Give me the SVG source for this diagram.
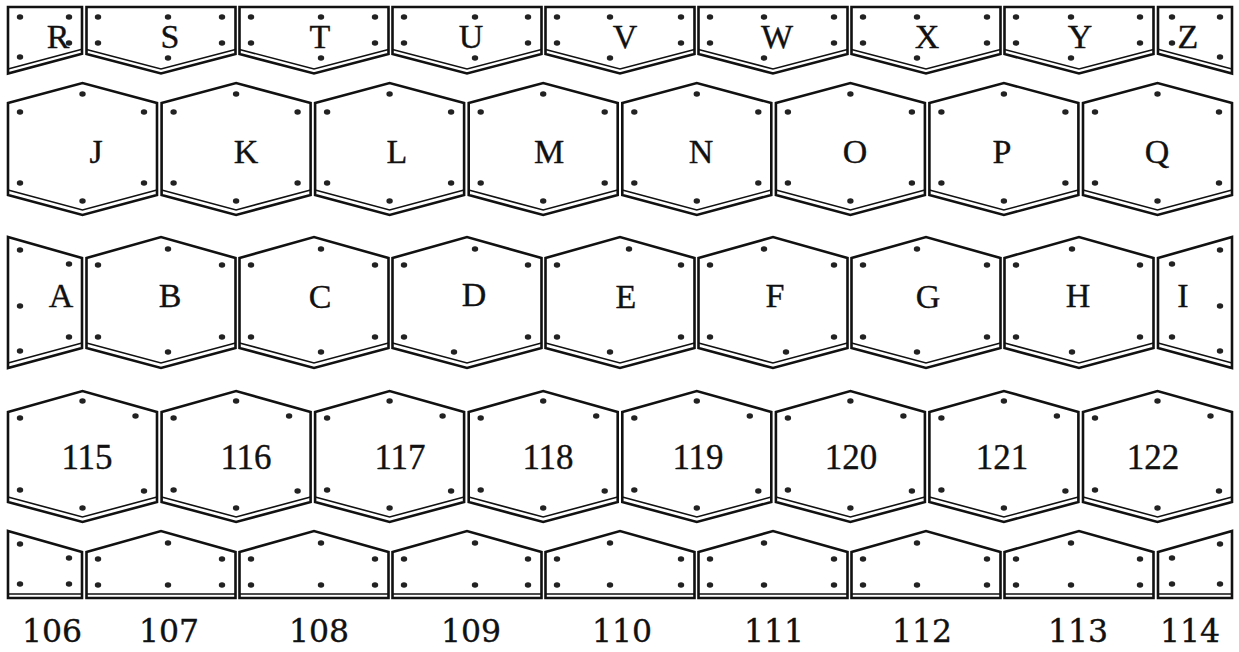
<svg xmlns="http://www.w3.org/2000/svg" width="1239" height="652" viewBox="0 0 1239 652">
<style>
.sh{fill:#fff;stroke:#111;stroke-width:2.6;stroke-linejoin:miter}
.in{fill:none;stroke:#111;stroke-width:1.6}
.d{fill:#222}
.t{font-family:"Liberation Serif","Times New Roman",serif;font-size:34px;fill:#111;stroke:#111;stroke-width:0.35;text-anchor:middle}
.n{font-size:35px}
.m{font-family:"DejaVu Serif","Liberation Serif",serif;font-size:31.5px}
</style>
<rect width="1239" height="652" fill="#fff"/>
<defs><ellipse id="dot" rx="3.2" ry="2.8" class="d"/></defs>

<!-- Row 1 -->
<g id="R"><path class="sh" d="M8,7H82V53.7L8,73.5Z"/><path class="in" d="M8,69L82,49.3"/>
<use href="#dot" x="20" y="17"/><use href="#dot" x="69" y="17"/><use href="#dot" x="69" y="43"/><use href="#dot" x="20" y="57"/>
<text class="t" x="58" y="48">R</text></g>
<g id="S"><path class="sh" d="M86.5,7H235.5V54L161,73.5L86.5,54Z"/><path class="in" d="M86.5,49.5L161,69L235.5,49.5"/>
<use href="#dot" x="98" y="17"/><use href="#dot" x="168" y="17"/><use href="#dot" x="222" y="17"/><use href="#dot" x="98" y="43"/><use href="#dot" x="222" y="43"/><use href="#dot" x="168" y="58"/>
<text class="t" x="170" y="48">S</text></g>
<g id="T"><path class="sh" d="M239.5,7H388.5V54L314,73.5L239.5,54Z"/><path class="in" d="M239.5,49.5L314,69L388.5,49.5"/>
<use href="#dot" x="251" y="17"/><use href="#dot" x="321" y="17"/><use href="#dot" x="375" y="17"/><use href="#dot" x="251" y="43"/><use href="#dot" x="375" y="43"/><use href="#dot" x="321" y="58"/>
<text class="t" x="320" y="48">T</text></g>
<g id="U"><path class="sh" d="M392.5,7H541.5V54L467,73.5L392.5,54Z"/><path class="in" d="M392.5,49.5L467,69L541.5,49.5"/>
<use href="#dot" x="404" y="17"/><use href="#dot" x="475" y="17"/><use href="#dot" x="528" y="17"/><use href="#dot" x="404" y="43"/><use href="#dot" x="528" y="43"/><use href="#dot" x="475" y="58"/>
<text class="t" x="471" y="48">U</text></g>
<g id="V"><path class="sh" d="M545.5,7H694.5V54L620,73.5L545.5,54Z"/><path class="in" d="M545.5,49.5L620,69L694.5,49.5"/>
<use href="#dot" x="557" y="17"/><use href="#dot" x="610" y="17"/><use href="#dot" x="681" y="17"/><use href="#dot" x="557" y="43"/><use href="#dot" x="681" y="43"/><use href="#dot" x="610" y="58"/>
<text class="t" x="625" y="48">V</text></g>
<g id="W"><path class="sh" d="M698.5,7H847.5V54L773,73.5L698.5,54Z"/><path class="in" d="M698.5,49.5L773,69L847.5,49.5"/>
<use href="#dot" x="710" y="17"/><use href="#dot" x="764" y="17"/><use href="#dot" x="834" y="17"/><use href="#dot" x="710" y="43"/><use href="#dot" x="834" y="43"/><use href="#dot" x="764" y="58"/>
<text class="t" x="777" y="48">W</text></g>
<g id="X"><path class="sh" d="M851.5,7H1000.5V54L926,73.5L851.5,54Z"/><path class="in" d="M851.5,49.5L926,69L1000.5,49.5"/>
<use href="#dot" x="863" y="17"/><use href="#dot" x="917" y="17"/><use href="#dot" x="987" y="17"/><use href="#dot" x="863" y="43"/><use href="#dot" x="987" y="43"/><use href="#dot" x="917" y="58"/>
<text class="t" x="927" y="48">X</text></g>
<g id="Y"><path class="sh" d="M1004.5,7H1153.5V54L1079,73.5L1004.5,54Z"/><path class="in" d="M1004.5,49.5L1079,69L1153.5,49.5"/>
<use href="#dot" x="1016" y="17"/><use href="#dot" x="1071" y="17"/><use href="#dot" x="1140" y="17"/><use href="#dot" x="1016" y="43"/><use href="#dot" x="1140" y="43"/><use href="#dot" x="1071" y="58"/>
<text class="t" x="1080" y="48">Y</text></g>
<g id="Z"><path class="sh" d="M1158,7H1232V73.5L1158,53.7Z"/><path class="in" d="M1158,49.3L1232,69"/>
<use href="#dot" x="1172" y="17"/><use href="#dot" x="1220" y="17"/><use href="#dot" x="1172" y="43"/><use href="#dot" x="1220" y="57"/>
<text class="t" x="1188" y="48">Z</text></g>

<!-- Row 2 -->
<g id="J"><path class="sh" d="M8,103L82.5,83L157,103V195L82.5,215L8,195Z"/><path class="in" d="M8,190L82.5,210L157,190"/>
<use href="#dot" x="20" y="112"/><use href="#dot" x="144" y="112"/><use href="#dot" x="82.5" y="94"/><use href="#dot" x="20" y="183"/><use href="#dot" x="144" y="183"/><use href="#dot" x="82.5" y="201"/>
<text class="t" x="96" y="163">J</text></g>
<g id="K"><path class="sh" d="M161.6,103L236.1,83L310.6,103V195L236.1,215L161.6,195Z"/><path class="in" d="M161.6,190L236.1,210L310.6,190"/>
<use href="#dot" x="173.6" y="112"/><use href="#dot" x="297.6" y="112"/><use href="#dot" x="236.1" y="94"/><use href="#dot" x="173.6" y="183"/><use href="#dot" x="297.6" y="183"/><use href="#dot" x="236.1" y="201"/>
<text class="t" x="246" y="163">K</text></g>
<g id="L"><path class="sh" d="M315.1,103L389.6,83L464.1,103V195L389.6,215L315.1,195Z"/><path class="in" d="M315.1,190L389.6,210L464.1,190"/>
<use href="#dot" x="327.1" y="112"/><use href="#dot" x="451.1" y="112"/><use href="#dot" x="389.6" y="94"/><use href="#dot" x="327.1" y="183"/><use href="#dot" x="451.1" y="183"/><use href="#dot" x="389.6" y="201"/>
<text class="t" x="397" y="163">L</text></g>
<g id="M"><path class="sh" d="M468.7,103L543.2,83L617.7,103V195L543.2,215L468.7,195Z"/><path class="in" d="M468.7,190L543.2,210L617.7,190"/>
<use href="#dot" x="480.7" y="112"/><use href="#dot" x="604.7" y="112"/><use href="#dot" x="543.2" y="94"/><use href="#dot" x="480.7" y="183"/><use href="#dot" x="604.7" y="183"/><use href="#dot" x="543.2" y="201"/>
<text class="t" x="549" y="163">M</text></g>
<g id="N"><path class="sh" d="M622.3,103L696.8,83L771.3,103V195L696.8,215L622.3,195Z"/><path class="in" d="M622.3,190L696.8,210L771.3,190"/>
<use href="#dot" x="634.3" y="112"/><use href="#dot" x="758.3" y="112"/><use href="#dot" x="696.8" y="94"/><use href="#dot" x="634.3" y="183"/><use href="#dot" x="758.3" y="183"/><use href="#dot" x="696.8" y="201"/>
<text class="t" x="701" y="163">N</text></g>
<g id="O"><path class="sh" d="M775.9,103L850.4,83L924.9,103V195L850.4,215L775.9,195Z"/><path class="in" d="M775.9,190L850.4,210L924.9,190"/>
<use href="#dot" x="787.9" y="112"/><use href="#dot" x="911.9" y="112"/><use href="#dot" x="850.4" y="94"/><use href="#dot" x="787.9" y="183"/><use href="#dot" x="911.9" y="183"/><use href="#dot" x="850.4" y="201"/>
<text class="t" x="855" y="163">O</text></g>
<g id="P"><path class="sh" d="M929.4,103L1003.9,83L1078.4,103V195L1003.9,215L929.4,195Z"/><path class="in" d="M929.4,190L1003.9,210L1078.4,190"/>
<use href="#dot" x="941.4" y="112"/><use href="#dot" x="1065.4" y="112"/><use href="#dot" x="1003.9" y="94"/><use href="#dot" x="941.4" y="183"/><use href="#dot" x="1065.4" y="183"/><use href="#dot" x="1003.9" y="201"/>
<text class="t" x="1002" y="163">P</text></g>
<g id="Q"><path class="sh" d="M1083,103L1157.5,83L1232,103V195L1157.5,215L1083,195Z"/><path class="in" d="M1083,190L1157.5,210L1232,190"/>
<use href="#dot" x="1095" y="112"/><use href="#dot" x="1219" y="112"/><use href="#dot" x="1157.5" y="94"/><use href="#dot" x="1095" y="183"/><use href="#dot" x="1219" y="183"/><use href="#dot" x="1157.5" y="201"/>
<text class="t" x="1157" y="163">Q</text></g>

<!-- Row 3 -->
<g id="A"><path class="sh" d="M8,237L82,258V348L8,368Z"/><path class="in" d="M8,363L82,343"/>
<use href="#dot" x="20" y="250"/><use href="#dot" x="69" y="264"/><use href="#dot" x="20" y="306"/><use href="#dot" x="69" y="337"/><use href="#dot" x="20" y="351"/>
<text class="t" x="61" y="307">A</text></g>
<g id="B"><path class="sh" d="M86.5,258L161,237L235.5,258V348L161,368L86.5,348Z"/><path class="in" d="M86.5,343L161,363L235.5,343"/>
<use href="#dot" x="98" y="265"/><use href="#dot" x="222" y="265"/><use href="#dot" x="168" y="249"/><use href="#dot" x="98" y="337"/><use href="#dot" x="222" y="337"/><use href="#dot" x="168" y="352"/>
<text class="t" x="170" y="307">B</text></g>
<g id="C"><path class="sh" d="M239.5,258L314,237L388.5,258V348L314,368L239.5,348Z"/><path class="in" d="M239.5,343L314,363L388.5,343"/>
<use href="#dot" x="251" y="265"/><use href="#dot" x="375" y="265"/><use href="#dot" x="321" y="249"/><use href="#dot" x="251" y="337"/><use href="#dot" x="375" y="337"/><use href="#dot" x="321" y="352"/>
<text class="t" x="320" y="308">C</text></g>
<g id="D"><path class="sh" d="M392.5,258L467,237L541.5,258V348L467,368L392.5,348Z"/><path class="in" d="M392.5,343L467,363L541.5,343"/>
<use href="#dot" x="404" y="265"/><use href="#dot" x="528" y="265"/><use href="#dot" x="475" y="249"/><use href="#dot" x="404" y="337"/><use href="#dot" x="528" y="337"/><use href="#dot" x="454" y="352"/>
<text class="t" x="474" y="306">D</text></g>
<g id="E"><path class="sh" d="M545.5,258L620,237L694.5,258V348L620,368L545.5,348Z"/><path class="in" d="M545.5,343L620,363L694.5,343"/>
<use href="#dot" x="557" y="265"/><use href="#dot" x="681" y="265"/><use href="#dot" x="629" y="249"/><use href="#dot" x="557" y="337"/><use href="#dot" x="681" y="337"/><use href="#dot" x="610" y="352"/>
<text class="t" x="626" y="308">E</text></g>
<g id="F"><path class="sh" d="M698.5,258L773,237L847.5,258V348L773,368L698.5,348Z"/><path class="in" d="M698.5,343L773,363L847.5,343"/>
<use href="#dot" x="710" y="265"/><use href="#dot" x="834" y="265"/><use href="#dot" x="764" y="249"/><use href="#dot" x="710" y="337"/><use href="#dot" x="834" y="337"/><use href="#dot" x="786" y="352"/>
<text class="t" x="775" y="307">F</text></g>
<g id="G"><path class="sh" d="M851.5,258L926,237L1000.5,258V348L926,368L851.5,348Z"/><path class="in" d="M851.5,343L926,363L1000.5,343"/>
<use href="#dot" x="863" y="265"/><use href="#dot" x="987" y="265"/><use href="#dot" x="917" y="249"/><use href="#dot" x="863" y="337"/><use href="#dot" x="987" y="337"/><use href="#dot" x="917" y="352"/>
<text class="t" x="928" y="308">G</text></g>
<g id="H"><path class="sh" d="M1004.5,258L1079,237L1153.5,258V348L1079,368L1004.5,348Z"/><path class="in" d="M1004.5,343L1079,363L1153.5,343"/>
<use href="#dot" x="1016" y="265"/><use href="#dot" x="1140" y="265"/><use href="#dot" x="1072" y="249"/><use href="#dot" x="1016" y="337"/><use href="#dot" x="1140" y="337"/><use href="#dot" x="1072" y="352"/>
<text class="t" x="1078" y="307">H</text></g>
<g id="I"><path class="sh" d="M1158,258L1232,237V368L1158,348Z"/><path class="in" d="M1158,343L1232,363"/>
<use href="#dot" x="1172" y="264"/><use href="#dot" x="1220" y="250"/><use href="#dot" x="1220" y="306"/><use href="#dot" x="1172" y="337"/><use href="#dot" x="1220" y="351"/>
<text class="t" x="1183" y="307">I</text></g>

<!-- Row 4 -->
<g id="n115"><path class="sh" d="M8,412L82.5,391L157,412V502L82.5,522L8,502Z"/><path class="in" d="M8,497L82.5,517L157,497"/>
<use href="#dot" x="20" y="418"/><use href="#dot" x="135.5" y="416"/><use href="#dot" x="82.5" y="401"/><use href="#dot" x="20" y="490"/><use href="#dot" x="144" y="491"/><use href="#dot" x="82.5" y="508"/>
<text class="t n" x="87" y="469">115</text></g>
<g id="n116"><path class="sh" d="M161.6,412L236.1,391L310.6,412V502L236.1,522L161.6,502Z"/><path class="in" d="M161.6,497L236.1,517L310.6,497"/>
<use href="#dot" x="173.6" y="418"/><use href="#dot" x="289.1" y="416"/><use href="#dot" x="236.1" y="401"/><use href="#dot" x="173.6" y="490"/><use href="#dot" x="297.6" y="491"/><use href="#dot" x="236.1" y="508"/>
<text class="t n" x="246" y="469">116</text></g>
<g id="n117"><path class="sh" d="M315.1,412L389.6,391L464.1,412V502L389.6,522L315.1,502Z"/><path class="in" d="M315.1,497L389.6,517L464.1,497"/>
<use href="#dot" x="327.1" y="418"/><use href="#dot" x="442.6" y="416"/><use href="#dot" x="389.6" y="401"/><use href="#dot" x="327.1" y="490"/><use href="#dot" x="451.1" y="491"/><use href="#dot" x="389.6" y="508"/>
<text class="t n" x="400" y="469">117</text></g>
<g id="n118"><path class="sh" d="M468.7,412L543.2,391L617.7,412V502L543.2,522L468.7,502Z"/><path class="in" d="M468.7,497L543.2,517L617.7,497"/>
<use href="#dot" x="480.7" y="418"/><use href="#dot" x="596.2" y="416"/><use href="#dot" x="543.2" y="401"/><use href="#dot" x="480.7" y="490"/><use href="#dot" x="604.7" y="491"/><use href="#dot" x="543.2" y="508"/>
<text class="t n" x="548" y="469">118</text></g>
<g id="n119"><path class="sh" d="M622.3,412L696.8,391L771.3,412V502L696.8,522L622.3,502Z"/><path class="in" d="M622.3,497L696.8,517L771.3,497"/>
<use href="#dot" x="634.3" y="418"/><use href="#dot" x="749.8" y="416"/><use href="#dot" x="696.8" y="401"/><use href="#dot" x="634.3" y="490"/><use href="#dot" x="758.3" y="491"/><use href="#dot" x="696.8" y="508"/>
<text class="t n" x="698" y="469">119</text></g>
<g id="n120"><path class="sh" d="M775.9,412L850.4,391L924.9,412V502L850.4,522L775.9,502Z"/><path class="in" d="M775.9,497L850.4,517L924.9,497"/>
<use href="#dot" x="787.9" y="418"/><use href="#dot" x="903.4" y="416"/><use href="#dot" x="850.4" y="401"/><use href="#dot" x="787.9" y="490"/><use href="#dot" x="911.9" y="491"/><use href="#dot" x="850.4" y="508"/>
<text class="t n" x="851" y="469">120</text></g>
<g id="n121"><path class="sh" d="M929.4,412L1003.9,391L1078.4,412V502L1003.9,522L929.4,502Z"/><path class="in" d="M929.4,497L1003.9,517L1078.4,497"/>
<use href="#dot" x="941.4" y="418"/><use href="#dot" x="1056.9" y="416"/><use href="#dot" x="1003.9" y="401"/><use href="#dot" x="941.4" y="490"/><use href="#dot" x="1065.4" y="491"/><use href="#dot" x="1003.9" y="508"/>
<text class="t n" x="1002" y="469">121</text></g>
<g id="n122"><path class="sh" d="M1083,412L1157.5,391L1232,412V502L1157.5,522L1083,502Z"/><path class="in" d="M1083,497L1157.5,517L1232,497"/>
<use href="#dot" x="1095" y="418"/><use href="#dot" x="1210.5" y="416"/><use href="#dot" x="1157.5" y="401"/><use href="#dot" x="1095" y="490"/><use href="#dot" x="1219" y="491"/><use href="#dot" x="1157.5" y="508"/>
<text class="t n" x="1153" y="469">122</text></g>

<!-- Row 5 -->
<g id="n106"><path class="sh" d="M8,531L82,552V598H8Z"/><path class="in" d="M8,594H82"/>
<use href="#dot" x="20" y="544"/><use href="#dot" x="69" y="558"/><use href="#dot" x="20" y="584"/><use href="#dot" x="69" y="584"/>
<text class="t m" x="52" y="642">106</text></g>
<g id="n107"><path class="sh" d="M86.5,552L161,531L235.5,552V598H86.5Z"/><path class="in" d="M86.5,594H235.5"/>
<use href="#dot" x="98" y="559"/><use href="#dot" x="168" y="543"/><use href="#dot" x="222" y="559"/><use href="#dot" x="98" y="585"/><use href="#dot" x="168" y="585"/><use href="#dot" x="222" y="585"/>
<text class="t m" x="169" y="642">107</text></g>
<g id="n108"><path class="sh" d="M239.5,552L314,531L388.5,552V598H239.5Z"/><path class="in" d="M239.5,594H388.5"/>
<use href="#dot" x="251" y="559"/><use href="#dot" x="321" y="543"/><use href="#dot" x="375" y="559"/><use href="#dot" x="251" y="585"/><use href="#dot" x="321" y="585"/><use href="#dot" x="375" y="585"/>
<text class="t m" x="319" y="642">108</text></g>
<g id="n109"><path class="sh" d="M392.5,552L467,531L541.5,552V598H392.5Z"/><path class="in" d="M392.5,594H541.5"/>
<use href="#dot" x="404" y="559"/><use href="#dot" x="475" y="543"/><use href="#dot" x="528" y="559"/><use href="#dot" x="404" y="585"/><use href="#dot" x="475" y="585"/><use href="#dot" x="528" y="585"/>
<text class="t m" x="471" y="642">109</text></g>
<g id="n110"><path class="sh" d="M545.5,552L620,531L694.5,552V598H545.5Z"/><path class="in" d="M545.5,594H694.5"/>
<use href="#dot" x="557" y="559"/><use href="#dot" x="610" y="543"/><use href="#dot" x="681" y="559"/><use href="#dot" x="557" y="585"/><use href="#dot" x="610" y="585"/><use href="#dot" x="681" y="585"/>
<text class="t m" x="622" y="642">110</text></g>
<g id="n111"><path class="sh" d="M698.5,552L773,531L847.5,552V598H698.5Z"/><path class="in" d="M698.5,594H847.5"/>
<use href="#dot" x="710" y="559"/><use href="#dot" x="764" y="543"/><use href="#dot" x="834" y="559"/><use href="#dot" x="710" y="585"/><use href="#dot" x="764" y="585"/><use href="#dot" x="834" y="585"/>
<text class="t m" x="774" y="642">111</text></g>
<g id="n112"><path class="sh" d="M851.5,552L926,531L1000.5,552V598H851.5Z"/><path class="in" d="M851.5,594H1000.5"/>
<use href="#dot" x="863" y="559"/><use href="#dot" x="917" y="543"/><use href="#dot" x="987" y="559"/><use href="#dot" x="863" y="585"/><use href="#dot" x="917" y="585"/><use href="#dot" x="987" y="585"/>
<text class="t m" x="922" y="642">112</text></g>
<g id="n113"><path class="sh" d="M1004.5,552L1079,531L1153.5,552V598H1004.5Z"/><path class="in" d="M1004.5,594H1153.5"/>
<use href="#dot" x="1016" y="559"/><use href="#dot" x="1071" y="543"/><use href="#dot" x="1140" y="559"/><use href="#dot" x="1016" y="585"/><use href="#dot" x="1071" y="585"/><use href="#dot" x="1140" y="585"/>
<text class="t m" x="1078" y="642">113</text></g>
<g id="n114"><path class="sh" d="M1158,552L1232,531V598H1158Z"/><path class="in" d="M1158,594H1232"/>
<use href="#dot" x="1172" y="558"/><use href="#dot" x="1220" y="544"/><use href="#dot" x="1172" y="584"/><use href="#dot" x="1220" y="584"/>
<text class="t m" x="1190" y="642">114</text></g>

<g id="connectors"></g>
</svg>
